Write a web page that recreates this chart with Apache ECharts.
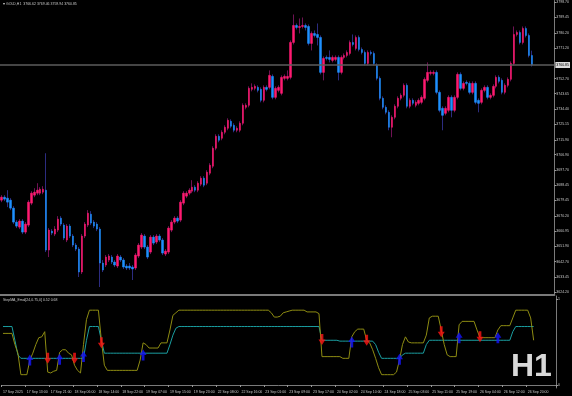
<!DOCTYPE html>
<html><head><meta charset="utf-8">
<script src="https://cdn.jsdelivr.net/npm/echarts@6/dist/echarts.min.js"></script>
<style>html,body{margin:0;padding:0;background:#000}#c{width:572px;height:396px}</style>
</head><body><div id="c"></div>
<script>
const opens = [
3679.6,3681.4,3680.8,3679.6,3674.8,3666.4,3663.4,3667.0,3660.4,3664.6,
3677.8,3682.6,3683.8,3683.8,3684.4,3685.6,3649.6,3661.0,3659.2,3661.6,
3668.8,3664.6,3655.6,3664.0,3658.0,3652.6,3650.2,3636.4,3658.0,3664.6,
3671.2,3666.4,3665.2,3662.2,3641.8,3640.6,3643.6,3645.4,3642.4,3640.0,
3645.4,3643.6,3640.0,3640.0,3639.4,3638.8,3646.0,3651.4,3658.0,3651.4,
3648.4,3657.4,3654.4,3658.0,3655.6,3647.2,3648.4,3661.6,3666.4,3668.8,
3667.6,3677.8,3682.0,3683.8,3685.0,3687.4,3685.6,3689.2,3692.8,3689.8,
3695.8,3700.0,3710.8,3718.0,3716.8,3720.4,3722.8,3727.0,3724.6,3721.6,
3721.6,3725.8,3735.4,3736.6,3746.2,3746.8,3747.4,3746.2,3739.6,3747.4,
3747.4,3754.0,3741.4,3745.6,3743.8,3752.8,3752.8,3753.4,3774.4,3784.6,
3783.4,3784.0,3784.6,3784.0,3773.8,3779.8,3779.2,3777.4,3756.4,3765.4,
3765.4,3763.6,3764.2,3765.4,3756.4,3765.4,3766.6,3767.8,3774.4,3770.8,
3777.4,3770.2,3768.4,3761.8,3768.4,3767.8,3760.6,3752.8,3740.8,3735.4,
3732.4,3723.4,3729.4,3736.0,3740.8,3742.6,3748.6,3736.0,3739.6,3736.6,
3737.8,3738.4,3740.8,3751.6,3755.8,3755.8,3756.4,3744.4,3734.8,3731.8,
3733.6,3741.4,3733.6,3741.4,3755.2,3746.8,3750.4,3749.8,3744.4,3749.8,
3739.6,3738.4,3745.6,3747.4,3741.4,3742.6,3748.0,3753.4,3751.6,3744.4,
3748.6,3752.2,3761.8,3779.2,3780.4,3774.4,3782.8,3778.6,3766.62
];
const closes = [
3681.4,3680.2,3678.4,3674.8,3666.4,3664.0,3667.0,3660.4,3665.2,3678.4,
3683.8,3684.4,3685.6,3686.2,3686.2,3649.6,3661.6,3659.8,3662.2,3668.2,
3665.2,3656.8,3664.0,3658.0,3652.6,3650.2,3636.4,3658.0,3665.2,3671.8,
3665.8,3664.0,3662.2,3641.8,3637.6,3645.4,3646.0,3642.4,3640.6,3646.0,
3643.6,3639.4,3638.8,3638.8,3638.2,3646.6,3652.6,3658.6,3651.4,3645.4,
3657.4,3653.8,3658.0,3655.6,3647.8,3649.0,3662.8,3666.4,3668.8,3667.0,
3678.4,3683.8,3683.8,3685.6,3687.4,3685.6,3689.8,3692.8,3688.6,3696.4,
3700.6,3710.8,3718.0,3715.6,3720.4,3723.4,3727.6,3724.0,3721.6,3722.8,
3725.8,3736.6,3736.6,3746.8,3747.4,3748.0,3745.6,3739.6,3747.4,3746.2,
3754.6,3741.4,3746.8,3747.4,3753.4,3754.0,3754.0,3774.4,3784.6,3783.4,
3784.0,3784.6,3783.4,3773.8,3779.8,3778.6,3777.4,3756.4,3764.8,3764.8,
3764.2,3765.4,3765.4,3756.4,3765.4,3766.6,3768.4,3774.4,3773.2,3777.4,
3770.2,3768.4,3761.8,3768.4,3767.8,3761.8,3752.8,3740.8,3735.4,3732.4,
3723.4,3729.4,3736.0,3740.8,3742.6,3748.6,3736.0,3739.6,3737.8,3738.4,
3739.6,3741.4,3752.2,3756.4,3756.4,3756.4,3744.4,3733.6,3730.6,3734.8,
3741.4,3733.6,3741.4,3755.2,3746.8,3749.8,3749.8,3744.4,3749.8,3738.4,
3737.8,3745.6,3747.4,3741.4,3742.6,3748.0,3753.4,3751.0,3744.4,3748.6,
3752.2,3761.8,3779.2,3780.4,3774.4,3782.8,3778.6,3766.6,3760.85
];
const lows = [
3678.4,3679.0,3675.4,3673.6,3665.2,3662.8,3662.2,3659.2,3659.2,3663.4,
3676.6,3681.4,3682.6,3682.6,3683.2,3648.4,3645.4,3658.6,3658.0,3660.4,
3664.0,3655.6,3654.4,3656.8,3651.4,3649.0,3633.4,3635.2,3656.8,3663.4,
3664.6,3662.8,3661.0,3627.4,3636.4,3639.4,3642.4,3641.2,3639.4,3638.8,
3642.4,3638.2,3637.6,3637.6,3631.6,3637.6,3644.8,3650.2,3650.2,3644.2,
3647.2,3652.6,3653.2,3654.4,3646.6,3646.0,3647.2,3660.4,3665.2,3665.8,
3666.4,3676.6,3680.8,3682.6,3683.8,3684.4,3684.4,3688.0,3687.4,3688.6,
3694.6,3698.8,3709.6,3714.4,3715.6,3719.2,3721.6,3722.8,3720.4,3720.4,
3720.4,3724.6,3734.2,3735.4,3745.0,3745.6,3744.4,3738.4,3738.4,3745.0,
3746.2,3740.2,3740.2,3744.4,3742.6,3751.6,3751.6,3752.2,3773.2,3782.2,
3779.8,3782.8,3781.6,3772.6,3769.6,3777.4,3772.6,3755.2,3751.6,3763.6,
3762.4,3762.4,3763.0,3751.6,3755.2,3764.2,3765.4,3766.6,3772.0,3769.6,
3769.0,3767.2,3760.6,3760.6,3766.6,3760.6,3751.6,3739.6,3734.2,3731.2,
3721.6,3717.4,3728.2,3734.8,3739.6,3741.4,3734.8,3734.8,3736.6,3735.4,
3736.6,3737.2,3739.6,3750.4,3754.6,3754.6,3743.2,3732.4,3721.6,3730.6,
3732.4,3729.4,3732.4,3740.2,3745.6,3745.6,3748.6,3743.2,3743.2,3737.2,
3732.4,3737.2,3744.4,3740.2,3740.2,3741.4,3746.8,3749.8,3743.2,3743.2,
3747.4,3751.0,3760.6,3778.0,3773.2,3773.2,3777.4,3765.4,3759.94
];
const highs = [
3682.6,3682.6,3685.6,3680.8,3676.0,3667.6,3668.2,3668.2,3666.4,3679.6,
3685.0,3686.8,3689.8,3687.4,3688.0,3707.8,3662.8,3662.2,3664.0,3670.0,
3670.0,3665.8,3665.2,3665.2,3659.2,3653.8,3651.4,3659.2,3666.4,3673.6,
3673.0,3667.6,3666.4,3663.4,3643.6,3646.6,3647.2,3646.6,3643.6,3647.2,
3646.6,3644.8,3641.2,3641.8,3640.6,3647.8,3653.8,3659.8,3659.2,3652.6,
3658.6,3658.6,3659.2,3659.2,3656.8,3650.2,3664.0,3667.6,3670.0,3670.0,
3679.6,3685.0,3685.0,3686.8,3691.6,3688.6,3691.0,3694.0,3694.0,3697.6,
3701.8,3712.0,3719.2,3719.2,3721.6,3724.6,3728.8,3728.2,3725.8,3724.0,
3727.0,3737.8,3737.8,3748.0,3749.8,3749.2,3748.6,3747.4,3748.6,3748.6,
3757.6,3755.2,3748.0,3748.6,3754.6,3755.2,3757.6,3775.6,3791.2,3785.8,
3788.8,3789.4,3785.8,3785.2,3781.0,3781.6,3785.8,3778.6,3766.0,3766.6,
3769.6,3766.6,3766.6,3766.6,3766.6,3767.8,3769.6,3775.6,3779.2,3778.6,
3778.6,3771.4,3769.6,3769.6,3769.6,3769.0,3761.8,3754.0,3742.0,3736.6,
3733.6,3730.6,3737.2,3742.0,3743.8,3749.8,3749.8,3740.8,3740.8,3739.6,
3740.8,3742.6,3753.4,3762.4,3757.6,3757.6,3757.6,3745.6,3736.0,3736.0,
3742.6,3742.6,3742.6,3756.4,3756.4,3751.0,3751.6,3751.0,3751.0,3751.0,
3740.8,3746.8,3748.6,3748.6,3743.8,3749.2,3754.6,3754.6,3752.8,3749.8,
3753.4,3763.0,3784.0,3781.6,3781.6,3784.0,3784.0,3779.8,3769.46
];
const stepLine = [
0.68,0.68,0.68,0.68,0.52,0.35,0.31,0.31,0.31,0.31,
0.31,0.31,0.31,0.31,0.31,0.31,0.31,0.31,0.31,0.31,
0.31,0.31,0.31,0.31,0.31,0.31,0.31,0.31,0.52,0.68,
0.68,0.68,0.68,0.52,0.37,0.37,0.37,0.37,0.37,0.37,
0.37,0.37,0.37,0.37,0.37,0.37,0.37,0.37,0.37,0.37,
0.37,0.37,0.37,0.37,0.37,0.37,0.47,0.58,0.66,0.68,
0.68,0.68,0.68,0.68,0.68,0.68,0.68,0.68,0.68,0.68,
0.68,0.68,0.68,0.68,0.68,0.68,0.68,0.68,0.68,0.68,
0.68,0.68,0.68,0.68,0.68,0.68,0.68,0.68,0.68,0.68,
0.68,0.68,0.68,0.68,0.68,0.68,0.68,0.68,0.68,0.68,
0.68,0.68,0.68,0.68,0.68,0.68,0.68,0.52,0.52,0.52,
0.52,0.52,0.52,0.51,0.51,0.51,0.51,0.51,0.51,0.51,
0.51,0.51,0.51,0.51,0.51,0.47,0.38,0.31,0.31,0.31,
0.31,0.31,0.31,0.31,0.35,0.37,0.37,0.37,0.37,0.37,
0.37,0.37,0.47,0.52,0.52,0.52,0.52,0.52,0.52,0.52,
0.52,0.52,0.52,0.52,0.52,0.52,0.52,0.52,0.52,0.52,
0.52,0.52,0.52,0.52,0.52,0.52,0.52,0.52,0.52,0.52,
0.52,0.62,0.68,0.68,0.68,0.68,0.68,0.68,0.68
];
const emaLine = [
0.60,0.60,0.60,0.60,0.47,0.37,0.12,0.12,0.12,0.29,
0.37,0.47,0.55,0.56,0.62,0.15,0.14,0.16,0.17,0.38,
0.41,0.41,0.37,0.35,0.23,0.17,0.14,0.47,0.76,0.87,
0.87,0.87,0.87,0.52,0.23,0.17,0.17,0.17,0.17,0.17,
0.17,0.17,0.17,0.17,0.17,0.17,0.29,0.49,0.47,0.43,
0.43,0.43,0.43,0.49,0.49,0.49,0.64,0.81,0.84,0.87,
0.87,0.87,0.87,0.87,0.87,0.87,0.87,0.87,0.87,0.87,
0.87,0.87,0.87,0.87,0.87,0.87,0.87,0.87,0.87,0.87,
0.87,0.87,0.87,0.87,0.87,0.87,0.87,0.87,0.87,0.87,
0.84,0.79,0.79,0.80,0.84,0.85,0.86,0.87,0.87,0.87,
0.87,0.87,0.85,0.85,0.85,0.85,0.83,0.33,0.33,0.33,
0.33,0.33,0.33,0.33,0.31,0.31,0.31,0.56,0.62,0.65,
0.65,0.65,0.52,0.49,0.41,0.31,0.20,0.12,0.12,0.12,
0.12,0.12,0.15,0.29,0.47,0.56,0.50,0.49,0.49,0.49,
0.49,0.49,0.58,0.78,0.80,0.80,0.80,0.64,0.47,0.35,
0.33,0.33,0.33,0.70,0.74,0.74,0.74,0.74,0.74,0.64,
0.55,0.55,0.55,0.55,0.55,0.55,0.64,0.69,0.69,0.69,
0.69,0.78,0.87,0.87,0.87,0.87,0.87,0.78,0.52
];
const upArrows = [[9,0.29],[19,0.30],[27,0.33],[47,0.35],[117,0.50],[133,0.30],[153,0.55],[166,0.55]];
const downArrows = [[15,0.31],[24,0.31],[33,0.49],[107,0.53],[122,0.52],[147,0.62],[160,0.56]];
const timeLabels = ["17 Sep 2025","17 Sep 13:00","17 Sep 21:00","18 Sep 06:00","18 Sep 14:00","18 Sep 22:00",
"19 Sep 07:00","19 Sep 15:00","19 Sep 23:00","22 Sep 08:00","22 Sep 16:00","23 Sep 01:00","23 Sep 09:00",
"23 Sep 17:00","24 Sep 02:00","24 Sep 10:00","24 Sep 18:00","25 Sep 03:00","25 Sep 11:00","25 Sep 19:00",
"26 Sep 04:00","26 Sep 12:00","26 Sep 20:00"];
const priceTicks = [3624.20,3633.45,3642.70,3651.90,3660.95,3670.20,3679.45,3688.45,3697.70,3706.90,3715.90,
3725.15,3734.40,3743.65,3752.70,3771.20,3780.20,3789.45,3798.70];
const lastPrice = 3760.85;
const titleText = "GOLD,H1  3766.62 3769.46 3759.94 3760.85";
const indTitle = "StepMA_Emal[24,0.75,0] 0.52 0.68";
const slotCount = 186;

const cats = Array.from({length: slotCount}, (_, i) => String(i));
const wickData = opens.map((o, i) => [o, closes[i], lows[i], highs[i]]);
const bodyData = opens.map((o, i) => [o, closes[i], Math.min(o, closes[i]), Math.max(o, closes[i])]);
const labelIdx = idx => idx % 8 === 0 && idx / 8 < timeLabels.length;
const txt = '#c8c8c8';
const fnt = 'Liberation Sans';
const upPath = 'path://M5,0 L10,6 L7,6 L7,12 L3,12 L3,6 L0,6 Z';
const downPath = 'path://M5,12 L10,6 L7,6 L7,0 L3,0 L3,6 L0,6 Z';

const chart = echarts.init(document.getElementById('c'), null, {renderer: 'canvas'});
chart.setOption({
  backgroundColor: '#000',
  animation: false,
  grid: [
    {left: 0, right: 16, top: 0, height: 295},
    {left: 0, right: 16, top: 296, height: 92}
  ],
  xAxis: [
    {type: 'category', gridIndex: 0, data: cats, boundaryGap: true,
     axisLine: {show: true, lineStyle: {color: '#7a7a7a', width: 2}},
     axisTick: {show: false}, axisLabel: {show: false}, splitLine: {show: false}},
    {type: 'category', gridIndex: 1, data: cats, boundaryGap: true,
     axisLine: {show: true, lineStyle: {color: '#7a7a7a', width: 1}},
     axisTick: {show: true, interval: labelIdx, length: 2, lineStyle: {color: '#9a9a9a'}},
     axisLabel: {show: true, interval: labelIdx, align: 'left', margin: 2, color: txt,
       fontSize: 3.5, fontFamily: fnt,
       formatter: (v, idx) => labelIdx(idx) ? timeLabels[idx / 8] : ''},
     splitLine: {show: false}}
  ],
  yAxis: [
    {type: 'value', gridIndex: 0, position: 'right', min: 3622.6, max: 3799.6, scale: true,
     axisLine: {show: true, lineStyle: {color: '#7a7a7a', width: 1}},
     axisTick: {show: true, length: 2, customValues: priceTicks, lineStyle: {color: '#9a9a9a'}},
     axisLabel: {show: true, customValues: priceTicks, margin: 2, color: txt, fontSize: 3.5, fontFamily: fnt,
       formatter: v => v.toFixed(2)},
     splitLine: {show: false}},
    {type: 'value', gridIndex: 1, position: 'right', min: -0.035, max: 1.035,
     axisLine: {show: true, lineStyle: {color: '#7a7a7a', width: 1}},
     axisTick: {show: true, length: 2, customValues: [0, 1], lineStyle: {color: '#9a9a9a'}},
     axisLabel: {show: true, customValues: [0, 1], margin: 2, color: txt, fontSize: 3.5, fontFamily: fnt,
       formatter: v => String(Math.round(v))},
     splitLine: {show: false}}
  ],
  series: [
    {type: 'candlestick', xAxisIndex: 0, yAxisIndex: 0, data: wickData, barWidth: 1,
     itemStyle: {color: '#701254', color0: '#2c2c80', borderColor: '#701254', borderColor0: '#2c2c80', borderWidth: 1},
     markLine: {silent: true, symbol: 'none', animation: false,
       lineStyle: {color: '#5c5c5c', width: 1.5, type: 'solid'},
       label: {show: true, position: 'end', distance: 1, formatter: lastPrice.toFixed(2), color: '#000',
         backgroundColor: '#dcdcdc', fontSize: 3.5, fontFamily: fnt, padding: [1, 1]},
       data: [{yAxis: lastPrice}]}},
    {type: 'candlestick', xAxisIndex: 0, yAxisIndex: 0, data: bodyData, barWidth: 2,
     itemStyle: {color: '#ff1a70', color0: '#1e90ff', borderColor: '#ff1a70', borderColor0: '#1e90ff', borderWidth: 0.5}},
    {type: 'line', xAxisIndex: 1, yAxisIndex: 1, data: stepLine, symbol: 'none',
     lineStyle: {color: '#1a9ea0', width: 1}},
    {type: 'line', xAxisIndex: 1, yAxisIndex: 1, data: emaLine, symbol: 'none',
     lineStyle: {color: '#8e8c12', width: 1}},
    {type: 'scatter', xAxisIndex: 1, yAxisIndex: 1, data: upArrows, symbol: upPath, symbolSize: [7, 11],
     itemStyle: {color: '#1414ff'}, z: 5},
    {type: 'scatter', xAxisIndex: 1, yAxisIndex: 1, data: downArrows, symbol: downPath, symbolSize: [7, 11],
     itemStyle: {color: '#ff1414'}, z: 5}
  ],
  graphic: [
    {type: 'text', left: 3, top: 2, style: {text: '\u25BE ' + titleText, fill: txt, fontSize: 3.5, fontFamily: fnt}},
    {type: 'text', left: 3, top: 298, style: {text: indTitle, fill: txt, fontSize: 3.5, fontFamily: fnt}},
    {type: 'text', left: 511, top: 351, style: {text: 'H1', fill: '#d9d9d9', fontSize: 32, fontWeight: 'bold', fontFamily: fnt}}
  ]
});
</script></body></html>
